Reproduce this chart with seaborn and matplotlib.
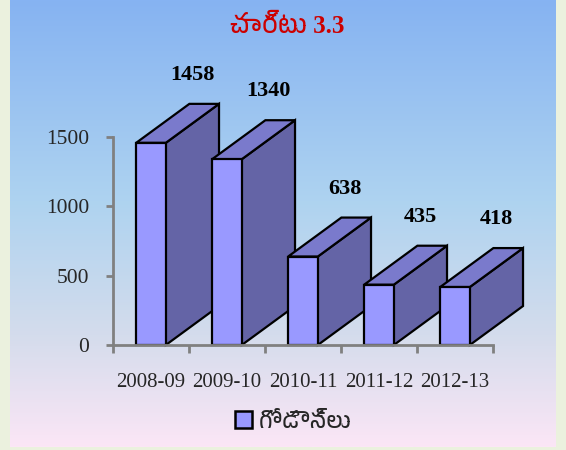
import numpy as np
import seaborn as sns
import matplotlib.pyplot as plt
from matplotlib import font_manager
from matplotlib.colors import LinearSegmentedColormap
from matplotlib.patches import Polygon, Patch

# dados do gráfico
anos = ["2008-09", "2009-10", "2010-11", "2011-12", "2012-13"]
godowns = [1458, 1340, 638, 435, 418]
titulo = "చార్టు 3.3"
legenda = "గోడౌన్లు"
yticks = [0, 500, 1000, 1500]

# fonte para telugu, se existir
telugu = [f.name for f in font_manager.fontManager.ttflist if "Telugu" in f.name]
fam_tel = ["Liberation Serif"] + (telugu[:1] if telugu else []) + ["DejaVu Sans"]

sns.set_theme(style="white")
plt.rcParams["font.family"] = ["Liberation Serif", "DejaVu Sans"]

fig = plt.figure(figsize=(5.66, 4.5), dpi=100, facecolor="#ebf1de")

# fundo em degradê
bg = fig.add_axes([10 / 566, 3 / 450, 546 / 566, 447 / 450], zorder=0)
cmap = LinearSegmentedColormap.from_list(
    "fundo", [(0, "#86b3f2"), (0.45, "#aed3f0"), (0.75, "#d4dcec"), (1, "#fbe6f6")])
bg.imshow(np.linspace(0, 1, 256)[:, None], aspect="auto", cmap=cmap, extent=[0, 1, 0, 1])
bg.axis("off")

ax = fig.add_axes([113 / 566, 1 - 345 / 450, 380 / 566, 208 / 450], zorder=1)
ax.patch.set_alpha(0)

sns.barplot(x=anos, y=godowns, color="#9999FF", width=0.39, edgecolor="black",
            linewidth=1.6, saturation=1, ax=ax)

ax.set_xlim(-0.5, 4.5)
ax.set_ylim(0, 1500)

# profundidade 3D
dx, dy = 0.70, 281
for i, p in enumerate(ax.patches):
    x0, w, h = p.get_x(), p.get_width(), p.get_height()
    z = 2 + i * 0.1
    lado = Polygon([(x0 + w, 0), (x0 + w, h), (x0 + w + dx, h + dy), (x0 + w + dx, dy)],
                   closed=True, facecolor="#6464a6", edgecolor="black", lw=1.6,
                   clip_on=False, zorder=z)
    topo = Polygon([(x0, h), (x0 + w, h), (x0 + w + dx, h + dy), (x0 + dx, h + dy)],
                   closed=True, facecolor="#7a7acc", edgecolor="black", lw=1.6,
                   clip_on=False, zorder=z)
    ax.add_patch(lado)
    ax.add_patch(topo)
    p.set_zorder(z + 0.05)
    p.set_clip_on(False)
    ax.text(x0 + w / 2 + 0.55, h + 490, str(godowns[i]), ha="center", va="center",
            fontsize=16, fontweight="bold", color="black", clip_on=False)

sns.despine(ax=ax)
for s in ["left", "bottom"]:
    ax.spines[s].set_color("#808080")
    ax.spines[s].set_linewidth(2)

ax.set_yticks(yticks)
ax.set_xticks(range(len(anos)))
ax.set_xticks(np.arange(-0.5, 5, 1), minor=True)
ax.tick_params(axis="y", left=True, length=5, width=2, color="#808080", pad=12,
               labelsize=15.5)
ax.tick_params(axis="x", which="major", bottom=False, length=0, pad=20, labelsize=15)
ax.tick_params(axis="x", which="minor", bottom=True, length=6, width=2, color="#808080")
ax.set_xlabel("")
ax.set_ylabel("")

fig.text(0.507, 1 - 26 / 450, titulo, ha="center", va="center", fontsize=18,
         fontweight="bold", color="#cc0000", family=fam_tel)

h = Patch(facecolor="#9999FF", edgecolor="black", linewidth=1.8)
leg = fig.legend([h], [legenda], loc="center", bbox_to_anchor=(0.518, 1 - 422 / 450),
                 frameon=False, handlelength=0.8, handleheight=0.8, handletextpad=0.3,
                 prop={"family": fam_tel, "size": 16})

fig.savefig("out.png", dpi=100, facecolor=fig.get_facecolor())
